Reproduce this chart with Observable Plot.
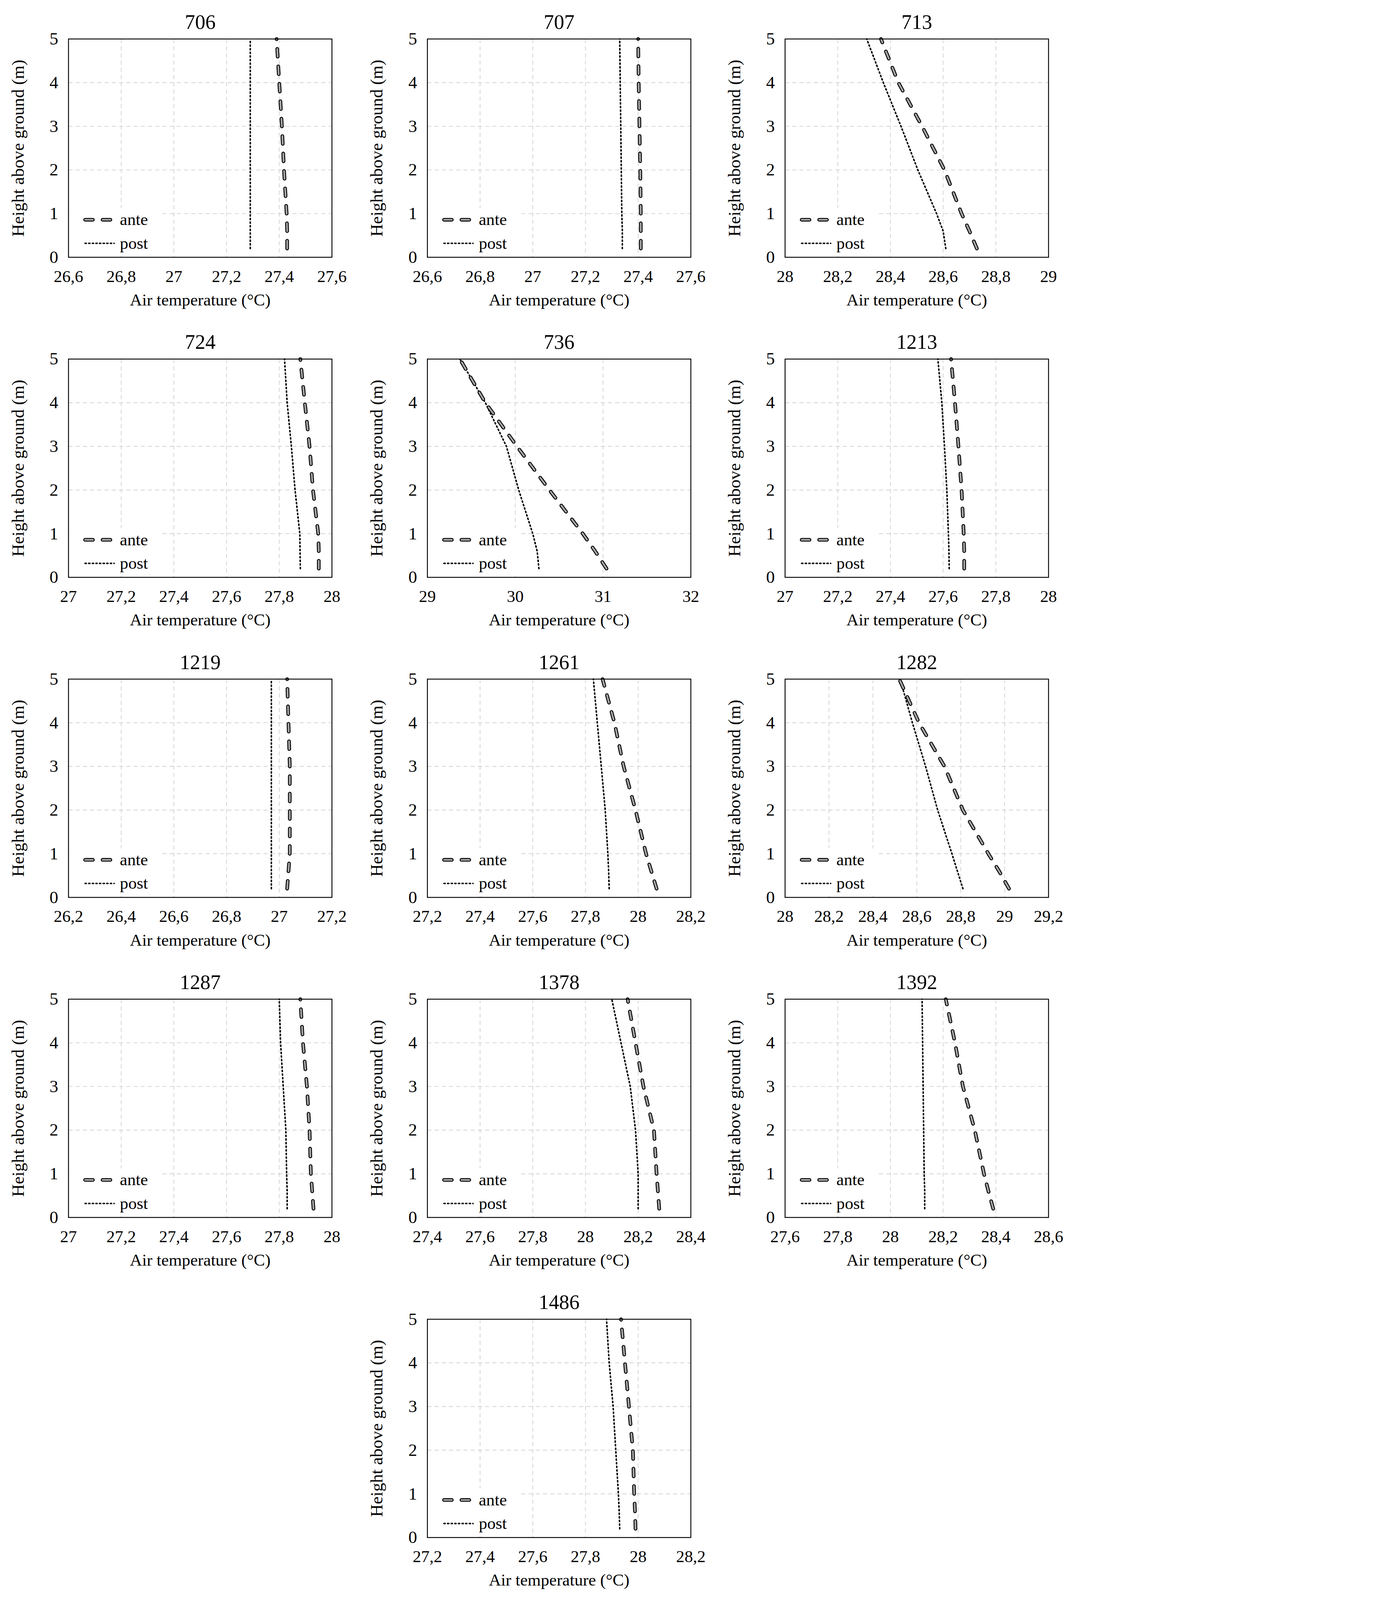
<!DOCTYPE html>
<html><head><meta charset="utf-8">
<script src="https://cdn.jsdelivr.net/npm/d3@7"></script>
<script src="https://cdn.jsdelivr.net/npm/@observablehq/plot@0.6"></script>
<style>
html,body{margin:0;background:#fff;overflow:hidden;}
#wrap{position:relative;width:3538px;height:5314px;background:#fff;transform-origin:0 0;}
.panel{position:absolute;}
</style></head>
<body><div id="wrap"></div>
<script>
const heights = [0.2, 0.6, 1, 2, 3, 4, 5];
const sites = ["706","707","713","724","736","1213","1219","1261","1282","1287","1378","1392","1486"];
const domains = [[26.6,27.6],[26.6,27.6],[28,29],[27,28],[29,32],[27,28],[26.2,27.2],[27.2,28.2],[28,29.2],[27,28],[27.4,28.4],[27.6,28.6],[27.2,28.2]];
const tickSteps = [0.2,0.2,0.2,0.2,1,0.2,0.2,0.2,0.2,0.2,0.2,0.2,0.2];
const ante = [
  [27.43,27.43,27.428,27.418,27.41,27.40,27.39],
  [27.41,27.41,27.41,27.408,27.405,27.402,27.40],
  [28.728,28.70,28.67,28.605,28.52,28.43,28.364],
  [27.95,27.95,27.948,27.928,27.915,27.897,27.88],
  [31.04,30.91,30.77,30.39,30.02,29.66,29.37],
  [27.68,27.68,27.678,27.67,27.658,27.645,27.63],
  [27.03,27.035,27.04,27.04,27.04,27.035,27.03],
  [28.07,28.05,28.03,27.99,27.945,27.91,27.865],
  [29.02,28.975,28.926,28.81,28.726,28.61,28.52],
  [27.93,27.925,27.92,27.915,27.905,27.89,27.88],
  [28.28,28.275,28.27,28.26,28.22,28.19,28.16],
  [28.39,28.372,28.355,28.32,28.275,28.245,28.21],
  [27.99,27.988,27.985,27.98,27.965,27.95,27.935]
];
const post = [
  [27.29,27.29,27.29,27.29,27.29,27.29,27.29],
  [27.34,27.34,27.338,27.336,27.334,27.332,27.33],
  [28.61,28.60,28.575,28.504,28.44,28.373,28.31],
  [27.88,27.879,27.878,27.86,27.846,27.83,27.82],
  [30.27,30.25,30.2,30.04,29.9,29.66,29.37],
  [27.623,27.622,27.62,27.614,27.605,27.595,27.58],
  [26.97,26.97,26.97,26.97,26.97,26.97,26.97],
  [27.89,27.888,27.885,27.875,27.86,27.845,27.83],
  [28.81,28.785,28.76,28.695,28.64,28.58,28.524],
  [27.83,27.83,27.828,27.825,27.815,27.805,27.80],
  [28.20,28.20,28.20,28.19,28.17,28.135,28.10],
  [28.13,28.13,28.128,28.126,28.124,28.122,28.12],
  [27.93,27.928,27.925,27.915,27.905,27.89,27.88]
];
const seriesNames = ["ante","post"];
const yTicks = [0,1,2,3,4,5];
const xLabel = "Air temperature (°C)";
const yLabel = "Height above ground (m)";

const FONT = "'Liberation Serif','Times New Roman',serif";
const fmt = v => String(Math.round(v*10)/10).replace(".", ",");
const wrap = document.getElementById("wrap");
const colLeft = [0, 1192, 2380];

sites.forEach((site, i) => {
  const col = i < 12 ? i % 3 : 1;
  const row = Math.floor(i / 3);
  const [x0, x1] = domains[i];
  const step = tickSteps[i];
  const xt = d3.range(0, Math.round((x1 - x0) / step) + 1).map(k => +(x0 + k * step).toFixed(2));
  const fx = f => x0 + f * (x1 - x0);
  const anteData = heights.map((h, j) => ({t: ante[i][j], h}));
  const postData = heights.map((h, j) => ({t: post[i][j], h}));
  const legA = [{t: fx(0.063), h: 0.86}, {t: fx(0.173), h: 0.86}];
  const legP = [{t: fx(0.063), h: 0.32}, {t: fx(0.173), h: 0.32}];
  const legText = [{t: fx(0.195), h: 0.86, s: seriesNames[0]}, {t: fx(0.195), h: 0.32, s: seriesNames[1]}];
  const gridStyle = {stroke: "#d4d4d4", strokeWidth: 2.5, strokeDasharray: "14,10", strokeOpacity: 1};
  const chart = Plot.plot({
    width: 1158, height: 1063,
    marginLeft: 227, marginRight: 56, marginTop: 129, marginBottom: 209,
    style: {fontFamily: FONT, background: "white", color: "black", overflow: "visible"},
    x: {domain: [x0, x1]},
    y: {domain: [0, 5]},
    marks: [
      Plot.gridX(xt.slice(1, -1), gridStyle),
      Plot.gridY(yTicks.slice(1, -1), gridStyle),
      Plot.rect([{a: fx(0.004), b: fx(0.35), c: 0.04, d: 1.12}], {x1: "a", x2: "b", y1: "c", y2: "d", fill: "white"}),
      Plot.axisX(xt, {tickSize: 0, tickPadding: 42, fontSize: 56, tickFormat: fmt, label: xLabel, labelAnchor: "center", labelOffset: 160, labelArrow: "none"}),
      Plot.axisY(yTicks, {tickSize: 0, tickPadding: 34, fontSize: 58, tickFormat: d => String(d), label: yLabel, labelAnchor: "center", labelOffset: 190, labelArrow: "none"}),
      Plot.line(postData, {x: "t", y: "h", stroke: "black", strokeWidth: 5, strokeDasharray: "4,8", strokeLinecap: "round"}),
      Plot.line(anteData, {x: "t", y: "h", stroke: "black", strokeWidth: 12, strokeDasharray: "26,32", strokeLinecap: "round"}),
      Plot.line(anteData, {x: "t", y: "h", stroke: "#a6a6a6", strokeWidth: 6, strokeDasharray: "26,32", strokeLinecap: "round"}),
      Plot.line(legP, {x: "t", y: "h", stroke: "black", strokeWidth: 5, strokeDasharray: "4,8", strokeLinecap: "round"}),
      Plot.line(legA, {x: "t", y: "h", stroke: "black", strokeWidth: 12, strokeDasharray: "26,32", strokeLinecap: "round"}),
      Plot.line(legA, {x: "t", y: "h", stroke: "#a6a6a6", strokeWidth: 6, strokeDasharray: "26,32", strokeLinecap: "round"}),
      Plot.text(legText, {x: "t", y: "h", text: "s", textAnchor: "start", fontSize: 56, fill: "black"}),
      Plot.frame({stroke: "black", strokeWidth: 3}),
      Plot.text([site], {frameAnchor: "top", dy: -82, fontSize: 68, fill: "black"})
    ]
  });
  chart.style.fontSize = "56px";
  chart.style.maxWidth = "none";
  const div = document.createElement("div");
  div.className = "panel";
  div.style.left = colLeft[col] + "px";
  div.style.top = (row * 1063) + "px";
  div.appendChild(chart);
  wrap.appendChild(div);
});
function fit() {
  const s = Math.min(1, window.innerWidth / 3538, window.innerHeight / 5314);
  wrap.style.transform = s < 1 ? `scale(${s})` : "";
}
fit();
window.addEventListener("resize", fit);
</script></body></html>
